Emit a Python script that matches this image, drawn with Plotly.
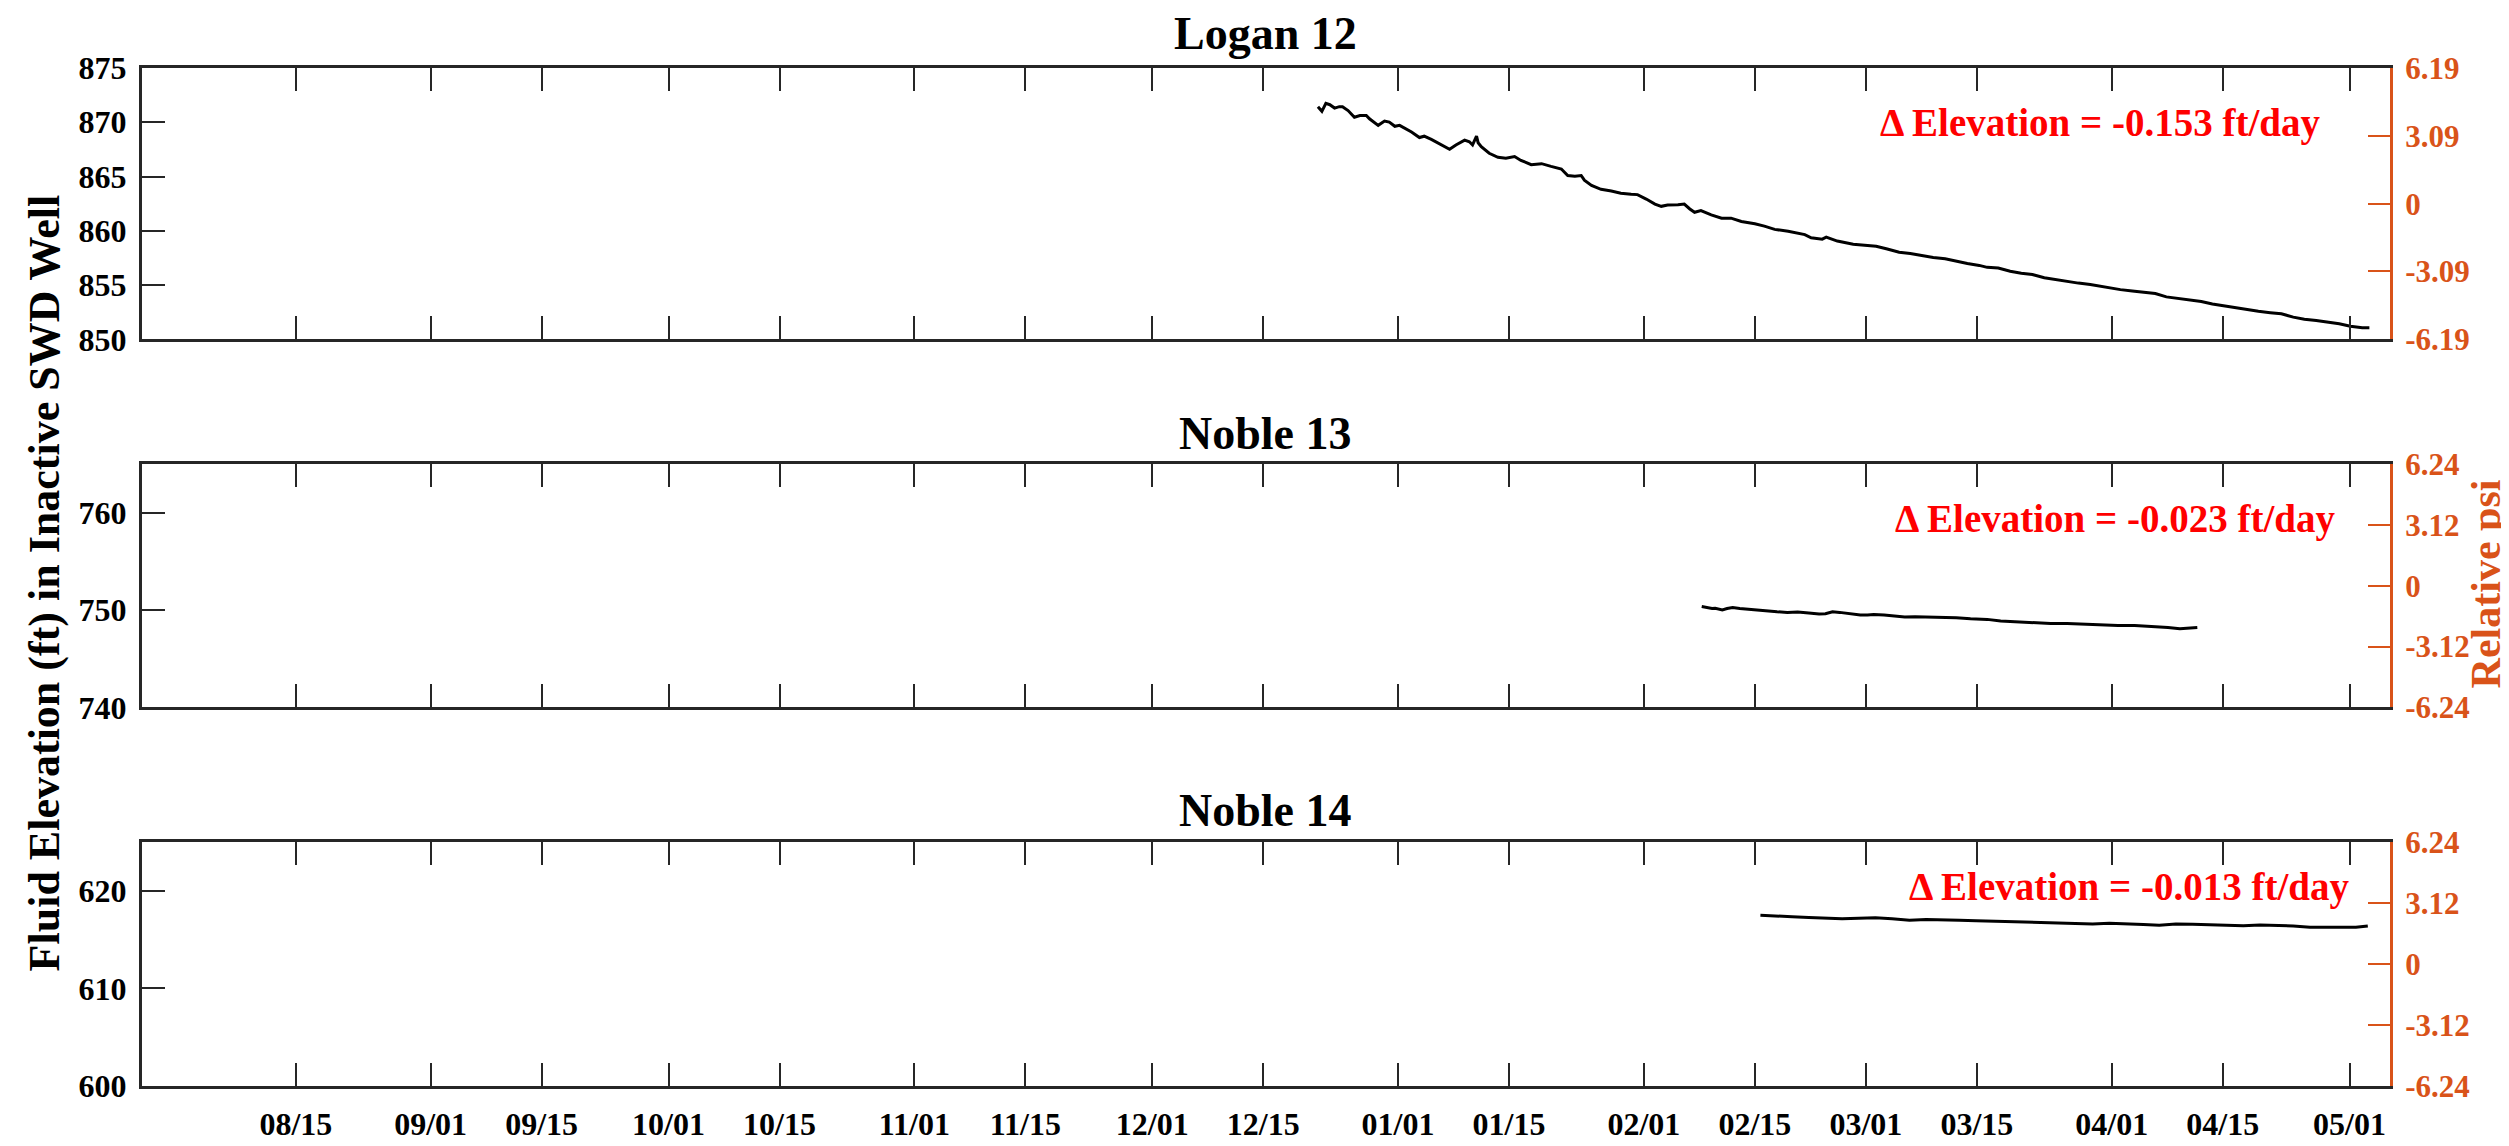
import pandas as pd
import plotly.graph_objects as go

# ---------------- data (days counted from BASE_DATE) ----------------
BASE_DATE = "2018-07-26"

logan12_day = [148.9, 149.4, 149.9, 150.4, 151.0, 151.6, 152.0, 152.7, 153.5, 154.2,
               155.0, 155.4, 156.5, 157.3, 157.9, 158.6, 159.2, 159.8, 160.7, 161.7,
               162.3, 163.2, 164.4, 165.5, 166.3, 167.4, 168.0, 168.4, 168.9, 169.1,
               169.5, 170.5, 171.6, 172.6, 173.7, 174.5, 175.8, 177.1, 178.3, 179.6,
               180.4, 181.3, 182.1, 182.5, 183.4, 184.6, 185.9, 187.1, 188.4, 189.2,
               190.3, 191.4, 192.2, 193.0, 194.3, 195.1, 195.8, 196.4, 197.2, 198.5,
               199.8, 201.0, 202.3, 204.0, 205.2, 206.5, 208.2, 210.3, 211.1, 212.5,
               213.0, 214.4, 216.4, 217.8, 219.3, 220.7, 222.2, 223.6, 225.1, 226.5,
               228.0, 229.4, 230.8, 232.3, 233.3, 234.7, 236.2, 237.6, 239.0, 240.5,
               241.9, 243.4, 244.8, 246.3, 248.2, 250.1, 251.6, 253.0, 254.5, 255.9,
               257.4, 258.8, 260.3, 261.7, 263.2, 264.6, 266.1, 267.5, 269.0, 270.4,
               271.9, 273.3, 274.8, 276.2, 277.7, 279.1, 280.6, 281.5]
logan12_elev = [871.44, 871.01, 871.74, 871.62, 871.31, 871.44, 871.44, 871.08, 870.47, 870.62,
                870.62, 870.32, 869.72, 870.11, 870.02, 869.63, 869.72, 869.50, 869.11, 868.60,
                868.72, 868.42, 867.91, 867.51, 867.91, 868.36, 868.21, 867.91, 868.72, 868.12,
                867.75, 867.15, 866.78, 866.69, 866.85, 866.49, 866.10, 866.19, 865.94, 865.70,
                865.10, 865.04, 865.10, 864.67, 864.19, 863.83, 863.68, 863.47, 863.38, 863.34,
                862.93, 862.47, 862.26, 862.38, 862.41, 862.47, 862.02, 861.71, 861.87, 861.48,
                861.17, 861.17, 860.87, 860.66, 860.44, 860.14, 859.96, 859.66, 859.36, 859.24,
                859.42, 859.06, 858.76, 858.64, 858.58, 858.33, 858.03, 857.91, 857.70, 857.55,
                857.43, 857.18, 857.00, 856.82, 856.64, 856.58, 856.28, 856.10, 855.98, 855.68,
                855.50, 855.37, 855.19, 855.07, 854.83, 854.59, 854.47, 854.35, 854.23, 853.92,
                853.80, 853.62, 853.50, 853.26, 853.08, 852.90, 852.72, 852.60, 852.47, 852.36,
                852.06, 851.87, 851.75, 851.63, 851.45, 851.21, 851.09, 851.09]

noble13_day = [197.3, 197.9, 198.6, 199.0, 199.9, 200.5, 201.2, 202.1, 202.9, 204.2,
               205.5, 206.8, 208.1, 209.4, 210.8, 212.1, 212.9, 213.8, 214.7, 215.9,
               217.3, 218.2, 219.0, 220.3, 221.6, 222.9, 224.2, 226.0, 227.7, 229.4,
               231.2, 233.3, 235.0, 237.1, 239.2, 241.3, 243.4, 245.5, 247.7, 249.8,
               251.9, 254.0, 256.1, 257.6, 259.8]
noble13_elev = [750.37, 750.27, 750.17, 750.20, 750.03, 750.17, 750.27, 750.17, 750.10, 750.00,
                749.90, 749.83, 749.77, 749.80, 749.70, 749.60, 749.63, 749.83, 749.77, 749.63,
                749.49, 749.49, 749.56, 749.49, 749.36, 749.29, 749.32, 749.29, 749.22, 749.22,
                749.12, 749.05, 748.89, 748.79, 748.72, 748.62, 748.62, 748.55, 748.48, 748.42,
                748.42, 748.35, 748.21, 748.08, 748.21]

noble14_day = [204.7, 206.6, 208.7, 210.8, 212.9, 215.0, 217.1, 219.2, 221.3, 223.5,
               225.6, 227.7, 229.8, 231.9, 234.0, 236.1, 238.2, 240.3, 242.4, 244.5,
               246.6, 248.7, 250.8, 253.0, 255.0, 257.1, 259.2, 261.3, 263.4, 265.6,
               267.7, 269.8, 271.9, 274.0, 276.1, 278.2, 279.8, 281.3]
noble14_elev = [617.51, 617.41, 617.34, 617.27, 617.20, 617.14, 617.20, 617.24, 617.14, 617.00,
                617.07, 617.00, 617.00, 616.94, 616.90, 616.80, 616.80, 616.77, 616.67, 616.67,
                616.60, 616.67, 616.64, 616.54, 616.47, 616.60, 616.57, 616.50, 616.47, 616.43,
                616.50, 616.47, 616.40, 616.26, 616.23, 616.26, 616.26, 616.40]

well_names = ["Logan 12", "Noble 13", "Noble 14"]
rate_labels = ["\u0394 Elevation = -0.153 ft/day",
               "\u0394 Elevation = -0.023 ft/day",
               "\u0394 Elevation = -0.013 ft/day"]

tick_dates = ["2018-08-15", "2018-09-01", "2018-09-15", "2018-10-01", "2018-10-15",
              "2018-11-01", "2018-11-15", "2018-12-01", "2018-12-15", "2019-01-01",
              "2019-01-15", "2019-02-01", "2019-02-15", "2019-03-01", "2019-03-15",
              "2019-04-01", "2019-04-15", "2019-05-01"]
tick_labels = ["08/15", "09/01", "09/15", "10/01", "10/15", "11/01", "11/15", "12/01",
               "12/15", "01/01", "01/15", "02/01", "02/15", "03/01", "03/15", "04/01",
               "04/15", "05/01"]
x_range = ["2018-07-26 14:24", "2019-05-06 02:24"]

left_ranges = [[850, 875], [740, 765], [600, 625]]
left_ticks = [[850, 855, 860, 865, 870, 875], [740, 750, 760], [600, 610, 620]]
right_ranges = [[-6.19, 6.19], [-6.24, 6.24], [-6.24, 6.24]]
right_ticks = [[-6.19, -3.09, 0, 3.09, 6.19], [-6.24, -3.12, 0, 3.12, 6.24],
               [-6.24, -3.12, 0, 3.12, 6.24]]
right_ticktext = [["-6.19", "-3.09", "0", "3.09", "6.19"],
                  ["-6.24", "-3.12", "0", "3.12", "6.24"],
                  ["-6.24", "-3.12", "0", "3.12", "6.24"]]

# ---------------- figure ----------------
W, H = 2509, 1146
ML, MR, MT, MB = 134, 127, 60, 51
PW, PH = W - ML - MR, H - MT - MB

FONT = "Liberation Serif, Times New Roman, serif"
AX = "#262626"
ORANGE = "#D95319"


def px_x(p):
    return (p - ML) / PW


def px_y(p):
    return (H - MB - p) / PH


def to_dates(days):
    return pd.Timestamp(BASE_DATE) + pd.to_timedelta(days, unit="D")


series = [(logan12_day, logan12_elev), (noble13_day, noble13_elev), (noble14_day, noble14_elev)]
panel_px = [(60, 336), (463, 710), (847, 1095)]

fig = go.Figure()
for i, (d, v) in enumerate(series):
    xa = "x" if i == 0 else f"x{i+1}"
    ya = "y" if i == 0 else f"y{i+1}"
    fig.add_trace(go.Scatter(x=to_dates(d), y=v, mode="lines", xaxis=xa, yaxis=ya,
                             line=dict(color="black", width=3), showlegend=False,
                             hoverinfo="skip"))
    # empty trace so the right-hand (pressure) axis is drawn
    fig.add_trace(go.Scatter(x=[], y=[], xaxis=xa, yaxis=f"y{i+4}", showlegend=False))

layout = dict(
    width=W, height=H,
    margin=dict(l=ML, r=MR, t=MT, b=MB),
    paper_bgcolor="white", plot_bgcolor="white",
    font=dict(family=FONT, size=31, color="black", weight="bold"),
    showlegend=False,
)

for i in range(3):
    top, bot = panel_px[i]
    dom = [px_y(bot), px_y(top)]
    xk = "xaxis" if i == 0 else f"xaxis{i+1}"
    yk = "yaxis" if i == 0 else f"yaxis{i+1}"
    yref = "y" if i == 0 else f"y{i+1}"
    xref = "x" if i == 0 else f"x{i+1}"
    layout[xk] = dict(
        domain=[0, 1], anchor=yref, type="date", range=x_range,
        tickvals=tick_dates, ticktext=tick_labels, showticklabels=(i == 2),
        ticks="inside", ticklen=23, tickwidth=2.4, tickcolor=AX,
        showline=True, linecolor=AX, linewidth=3, mirror="ticks",
        showgrid=False, zeroline=False,
        tickfont=dict(family=FONT, size=32, color="black", weight="bold"),
        ticklabelstandoff=8,
    )
    layout[yk] = dict(
        domain=dom, anchor=xref, range=left_ranges[i], tickvals=left_ticks[i],
        ticks="inside", ticklen=23, tickwidth=2.4, tickcolor=AX,
        showline=True, linecolor=AX, linewidth=3, mirror=False,
        showgrid=False, zeroline=False,
        tickfont=dict(family=FONT, size=32, color="black", weight="bold"),
        ticklabelstandoff=6,
    )
    layout[f"yaxis{i+4}"] = dict(
        overlaying=yref, side="right", anchor=xref, range=right_ranges[i],
        tickvals=right_ticks[i], ticktext=right_ticktext[i],
        ticks="inside", ticklen=22, tickwidth=2.4, tickcolor=ORANGE,
        showline=True, linecolor=ORANGE, linewidth=3,
        showgrid=False, zeroline=False,
        tickfont=dict(family=FONT, size=31, color=ORANGE, weight="bold"),
        ticklabelstandoff=6,
    )

fig.update_layout(**layout)

annotations = []
title_y = [25, 432, 815]
rate_y = [116, 519, 893]
rate_x = [2314, 2329, 2343]
for i in range(3):
    annotations.append(dict(
        text=well_names[i], xref="paper", yref="paper", x=px_x(1257), y=px_y(title_y[i]),
        xanchor="center", yanchor="middle", showarrow=False,
        font=dict(family=FONT, size=46, color="black", weight="bold")))
    annotations.append(dict(
        text=rate_labels[i], xref="paper", yref="paper", x=px_x(rate_x[i]), y=px_y(rate_y[i]),
        xanchor="right", yanchor="middle", showarrow=False,
        font=dict(family=FONT, size=39, color="#FF0000", weight="bold")))

annotations.append(dict(
    text="Fluid Elevation (ft) in Inactive SWD Well", xref="paper", yref="paper",
    x=px_x(36), y=px_y(584), xanchor="center", yanchor="middle", textangle=-90,
    showarrow=False, font=dict(family=FONT, size=44, color="black", weight="bold")))
annotations.append(dict(
    text="Relative psi", xref="paper", yref="paper",
    x=px_x(2478), y=px_y(585), xanchor="center", yanchor="middle", textangle=-90,
    showarrow=False, font=dict(family=FONT, size=42, color=ORANGE, weight="bold")))

fig.update_layout(annotations=annotations)
fig.write_html("out.html")
